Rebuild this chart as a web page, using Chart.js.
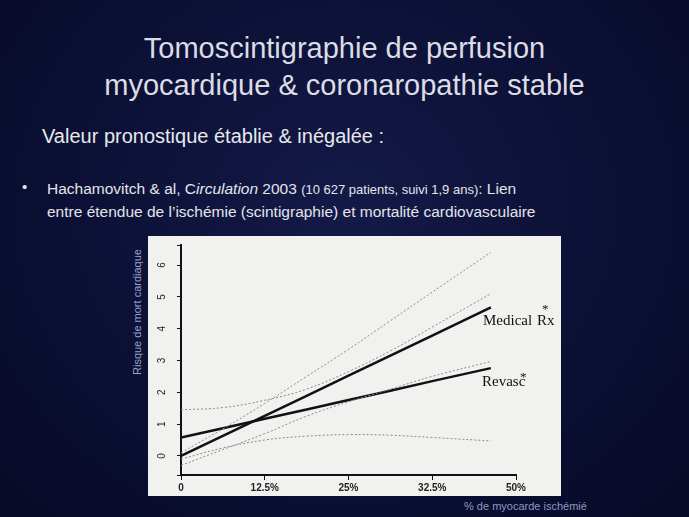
<!DOCTYPE html>
<html><head><meta charset="utf-8">
<script src="https://cdn.jsdelivr.net/npm/chart.js@4"></script>
<style>
body{margin:0;width:689px;height:517px;overflow:hidden;background:radial-gradient(ellipse at 50% 40%,#141a48 0%,#0b0f33 60%,#070a26 100%);font-family:"Liberation Sans",Arial,sans-serif;color:#e4e4ea;position:relative}
.t{position:absolute;white-space:nowrap}
#box{position:absolute;left:148px;top:236px;width:413px;height:260px;background:#f1f1ef;overflow:hidden}
.serif{font-family:"Liberation Serif","Times New Roman",serif;color:#111;position:absolute;white-space:nowrap;font-size:15px;line-height:17px}
</style></head><body>
<div class="t" style="left:0;width:689px;text-align:center;top:30px;font-size:29px;line-height:37px;color:#dcdce4">Tomoscintigraphie de perfusion<br>myocardique &amp; coronaropathie stable</div>
<div class="t" style="left:42px;top:125px;font-size:20px;color:#e8e8ee">Valeur pronostique établie &amp; inégalée :</div>
<div class="t" style="left:22px;top:178px;font-size:15px">•</div>
<div class="t" style="left:47px;top:178px;font-size:15.5px;line-height:22px">Hachamovitch &amp; al, C<i>irculation</i> 2003 <span style="font-size:13px">(10 627 patients, suivi 1,9 ans)</span>: Lien<br>entre étendue de l’ischémie (scintigraphie) et mortalité cardiovasculaire</div>
<div id="box"><canvas id="c" width="413" height="260"></canvas>
<div class="serif" style="left:335px;top:76px">Medical</div>
<div class="serif" style="left:389px;top:76px">Rx</div>
<div class="serif" style="left:394px;top:64px;font-size:13px">*</div>
<div class="serif" style="left:334px;top:137px">Revasc</div>
<div class="serif" style="left:372px;top:132px;font-size:13px">*</div>
</div>
<div class="t" style="left:131px;top:375px;font-size:11px;color:#9aa0c8;transform:rotate(-90deg);transform-origin:0 0">Risque de mort cardiaque</div>
<div class="t" style="left:464px;top:500px;font-size:11px;color:#8f95c8">% de myocarde ischémié</div>
<script>
// x positions in tick units (0 = 0, 1 = 12.5%, 2 = 25%, 3 = 32.5%, 4 = 50%)
const xs = [0, 0.5, 1, 1.5, 2, 2.5, 3, 3.7];
const xTickLabels = ['0', '12.5%', '25%', '32.5%', '50%'];
const medical = [0, 0.63, 1.26, 1.89, 2.52, 3.15, 3.78, 4.67];
const revasc = [0.58, 0.87, 1.17, 1.46, 1.76, 2.05, 2.35, 2.76];
const medicalUpper = [0.1, 0.85, 1.65, 2.5, 3.35, 4.25, 5.15, 6.4];
const medicalLower = [-0.3, 0.2, 0.7, 1.25, 1.7, 2.1, 2.5, 2.97];
const revascUpper = [1.45, 1.52, 1.75, 2.1, 2.65, 3.3, 4.05, 5.1];
const revascLower = [-0.1, 0.25, 0.5, 0.62, 0.67, 0.65, 0.58, 0.47];

const pts = ys => ys.map((y, i) => ({ x: xs[i], y }));
const solid = d => ({ data: pts(d), borderColor: '#111', borderWidth: 2.5, pointRadius: 0, tension: 0 });
const dotted = d => ({ data: pts(d), borderColor: '#8a8a8a', borderWidth: 1, borderDash: [2, 2], pointRadius: 0, tension: 0.4 });

// rotated y tick labels, like the scanned figure
const yLabels = {
  id: 'yLabels',
  afterDraw(chart) {
    const ctx = chart.ctx, y = chart.scales.y;
    ctx.save();
    ctx.fillStyle = '#222';
    ctx.font = '10px "Liberation Sans"';
    ctx.textAlign = 'center';
    ctx.textBaseline = 'middle';
    for (let v = 0; v <= 6; v++) {
      ctx.save();
      ctx.translate(y.left + 12, y.getPixelForValue(v));
      ctx.rotate(-Math.PI / 2);
      ctx.fillText(String(v), 0, 0);
      ctx.restore();
    }
    ctx.restore();
  }
};

new Chart(document.getElementById('c'), {
  type: 'line',
  data: { datasets: [
    dotted(medicalUpper), dotted(medicalLower), dotted(revascUpper), dotted(revascLower),
    solid(medical), solid(revasc)
  ] },
  options: {
    responsive: false, animation: false,
    layout: { padding: { left: 2, right: 45, top: 9, bottom: 0 } },
    plugins: { legend: { display: false }, tooltip: { enabled: false } },
    scales: {
      x: {
        type: 'linear', min: 0, max: 4,
        border: { color: '#111', width: 2 },
        grid: { drawOnChartArea: false, color: '#111', tickLength: 5 },
        ticks: { stepSize: 1, color: '#222', font: { size: 10, weight: 'bold' }, padding: 2,
          callback: v => xTickLabels[v] }
      },
      y: {
        min: -0.6, max: 6.63,
        afterFit: s => { s.width = 31; },
        border: { color: '#111', width: 2 },
        grid: { drawOnChartArea: false, color: '#111', tickLength: 4 },
        ticks: { display: false, stepSize: 1 }
      }
    }
  },
  plugins: [yLabels]
});
</script>
</body></html>
